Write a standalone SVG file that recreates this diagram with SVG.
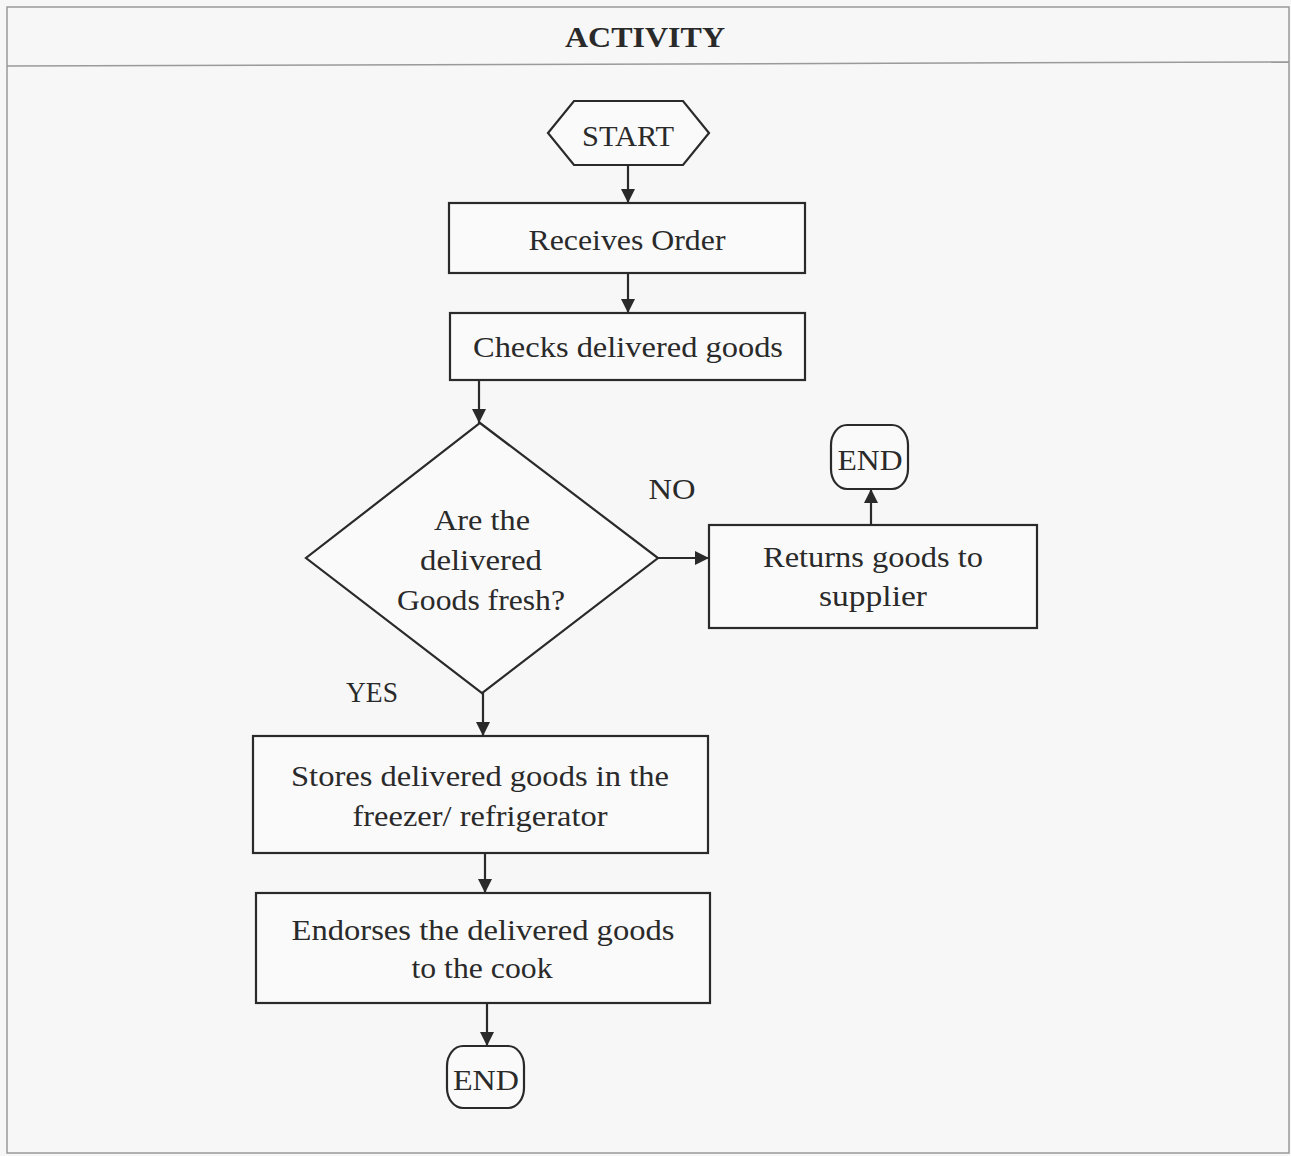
<svg xmlns="http://www.w3.org/2000/svg" width="1291" height="1156" viewBox="0 0 1291 1156">
<style>
.bg{fill:#f7f7f7}
.frame{fill:none;stroke:#9a9a9a;stroke-width:1.5}
.shape{fill:#fafafa;stroke:#2a2a2a;stroke-width:2.2}
.t{font-family:"Liberation Serif","DejaVu Serif",serif;font-size:29px;fill:#2a2a2a;text-anchor:middle}
.title{font-weight:bold;font-size:30px}
.conn{fill:none;stroke:#2a2a2a;stroke-width:2.2}
</style>
<defs>
<marker id="ah" viewBox="0 0 10 10" refX="10" refY="5" markerWidth="14" markerHeight="14" markerUnits="userSpaceOnUse" orient="auto">
<path d="M0,0 L10,5 L0,10 z" fill="#2a2a2a"/>
</marker>
</defs>
<rect class="bg" x="0" y="0" width="1291" height="1156"/>
<g id="frame">
<rect class="frame" x="7" y="7" width="1282" height="1146"/>
<line class="frame" x1="7" y1="66" x2="1289" y2="62"/>
<text class="t title" x="645" y="47" textLength="160" lengthAdjust="spacingAndGlyphs">ACTIVITY</text>
</g>
<g id="start">
<polygon class="shape" points="548,133 574,101 683,101 709,133 683,165 574,165"/>
<text class="t" x="628" y="146" textLength="92" lengthAdjust="spacingAndGlyphs">START</text>
</g>
<g id="receives">
<rect class="shape" x="449" y="203" width="356" height="70"/>
<text class="t" x="627" y="250" textLength="197" lengthAdjust="spacingAndGlyphs">Receives Order</text>
</g>
<g id="checks">
<rect class="shape" x="450" y="313" width="355" height="67"/>
<text class="t" x="628" y="357" textLength="310" lengthAdjust="spacingAndGlyphs">Checks delivered goods</text>
</g>
<g id="decision">
<polygon class="shape" points="480,423 658,558 482,693 306,558"/>
<text class="t" x="482" y="530" textLength="96" lengthAdjust="spacingAndGlyphs">Are the</text>
<text class="t" x="481" y="570" textLength="122" lengthAdjust="spacingAndGlyphs">delivered</text>
<text class="t" x="481" y="610" textLength="168" lengthAdjust="spacingAndGlyphs">Goods fresh?</text>
</g>
<g id="returns">
<rect class="shape" x="709" y="525" width="328" height="103"/>
<text class="t" x="873" y="567" textLength="220" lengthAdjust="spacingAndGlyphs">Returns goods to</text>
<text class="t" x="873" y="606" textLength="108" lengthAdjust="spacingAndGlyphs">supplier</text>
</g>
<g id="end1">
<rect class="shape" x="831" y="425" width="77" height="64" rx="16" ry="20"/>
<text class="t" x="870" y="470" textLength="65" lengthAdjust="spacingAndGlyphs">END</text>
</g>
<g id="stores">
<rect class="shape" x="253" y="736" width="455" height="117"/>
<text class="t" x="480" y="786" textLength="378" lengthAdjust="spacingAndGlyphs">Stores delivered goods in the</text>
<text class="t" x="480" y="826" textLength="255" lengthAdjust="spacingAndGlyphs">freezer/ refrigerator</text>
</g>
<g id="endorses">
<rect class="shape" x="256" y="893" width="454" height="110"/>
<text class="t" x="483" y="940" textLength="383" lengthAdjust="spacingAndGlyphs">Endorses the delivered goods</text>
<text class="t" x="482" y="978" textLength="141" lengthAdjust="spacingAndGlyphs">to the cook</text>
</g>
<g id="end2">
<rect class="shape" x="447" y="1046" width="77" height="62" rx="16" ry="20"/>
<text class="t" x="486" y="1090" textLength="66" lengthAdjust="spacingAndGlyphs">END</text>
</g>
<g id="labels">
<text class="t" x="672" y="499" textLength="47" lengthAdjust="spacingAndGlyphs">NO</text>
<text class="t" x="372" y="702" textLength="52" lengthAdjust="spacingAndGlyphs">YES</text>
</g>
<g id="connectors">
<line class="conn" x1="628" y1="165" x2="628" y2="203" marker-end="url(#ah)"/>
<line class="conn" x1="628" y1="273" x2="628" y2="313" marker-end="url(#ah)"/>
<line class="conn" x1="479" y1="380" x2="479" y2="423" marker-end="url(#ah)"/>
<line class="conn" x1="658" y1="558" x2="709" y2="558" marker-end="url(#ah)"/>
<line class="conn" x1="871" y1="525" x2="871" y2="489" marker-end="url(#ah)"/>
<line class="conn" x1="483" y1="693" x2="483" y2="736" marker-end="url(#ah)"/>
<line class="conn" x1="485" y1="853" x2="485" y2="893" marker-end="url(#ah)"/>
<line class="conn" x1="487" y1="1003" x2="487" y2="1046" marker-end="url(#ah)"/>
</g>
</svg>
